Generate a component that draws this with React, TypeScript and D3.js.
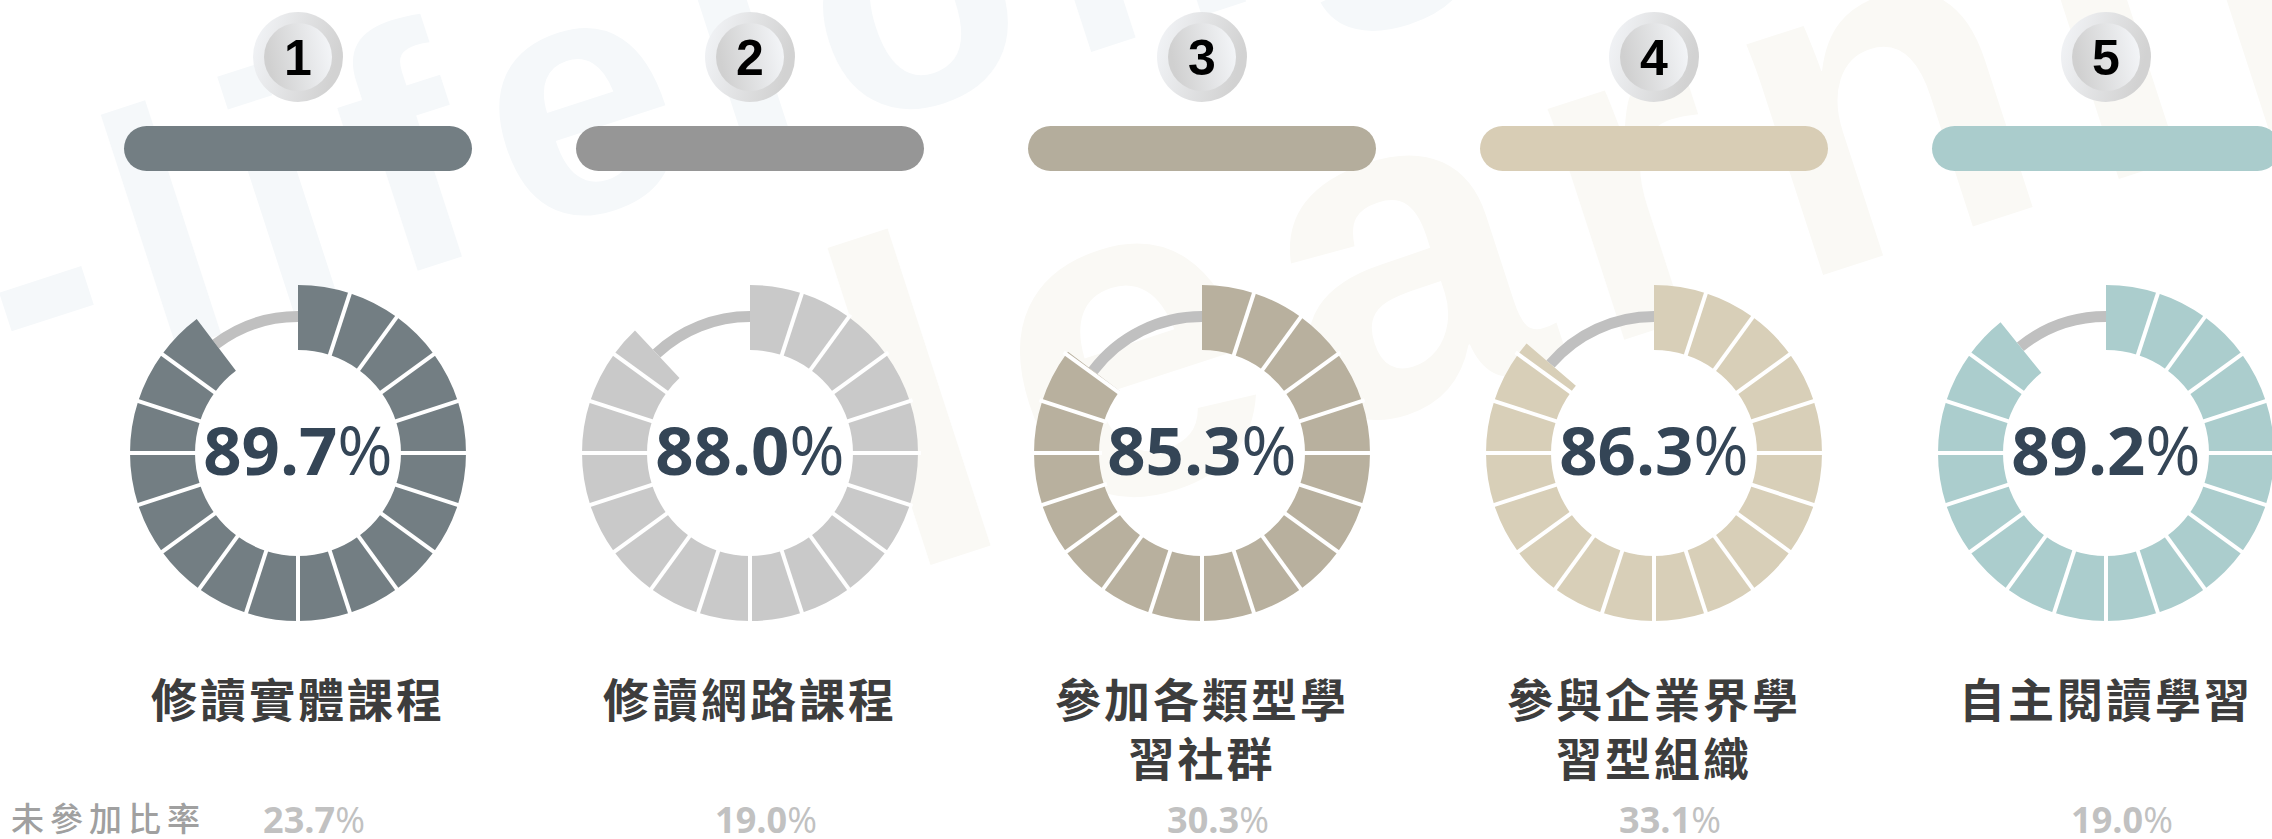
import React from "react";
import * as d3 from "d3";

const ranks = ["1", "2", "3", "4", "5"];
const categories: string[][] = [
  ["修讀實體課程"],
  ["修讀網路課程"],
  ["參加各類型學", "習社群"],
  ["參與企業界學", "習型組織"],
  ["自主閱讀學習"],
];
const participation = [89.7, 88.0, 85.3, 86.3, 89.2];
const nonParticipation = [23.7, 19.0, 30.3, 33.1, 19.0];
const barColors = ["#737e83", "#969696", "#b4ad9c", "#d8cdb5", "#aacccc"];
const ringColors = ["#737e83", "#c9c9c9", "#b8b09e", "#d8cfb8", "#abcdcd"];
const footLabel = "未參加比率";

const W = 2272;
const H = 839;
const SEGMENTS = 20;

export default function App() {
  const x = d3.scaleBand<number>().domain(d3.range(5)).range([72, 72 + 5 * 452]).padding(0);
  const cx = (i: number) => (x(i) as number) + x.bandwidth() / 2;
  const angle = d3.scaleLinear().domain([0, 100]).range([0, 2 * Math.PI]);
  const segArc = d3.arc<any>().innerRadius(103).outerRadius(168);
  const trackArc = d3.arc<any>().innerRadius(131).outerRadius(142);
  const segStep = (2 * Math.PI) / SEGMENTS;
  const cy = 453;
  const numFont = "'Open Sans', 'Noto Sans', sans-serif";
  const cjkFont = "'Noto Sans CJK TC', 'Noto Sans CJK SC', sans-serif";

  return (
    <div style={{ position: "absolute", left: 0, top: 0, width: W, height: H, overflow: "hidden", background: "#fff" }}>
      <svg width={W} height={H} viewBox={`0 0 ${W} ${H}`} style={{ display: "block" }}>
        <defs>
          <linearGradient id="badgeOuter" x1="0" y1="0" x2="1" y2="0.3">
            <stop offset="0" stopColor="#f4f6f9" />
            <stop offset="1" stopColor="#d2d2d2" />
          </linearGradient>
          <linearGradient id="badgeInner" x1="0" y1="0.2" x2="1" y2="0">
            <stop offset="0" stopColor="#d0d0d0" />
            <stop offset="1" stopColor="#f6f8fb" />
          </linearGradient>
        </defs>

        {/* watermark */}
        <g fontFamily="'Liberation Sans', Arial, sans-serif" fontWeight={700} aria-hidden="true">
          <path d="M0,0" />
          <text x={20} y={400} fontSize={340} fill="#f5f8fa" transform="rotate(-18 20 400)" letterSpacing={28}>
            -lifelong
          </text>
          <text x={900} y={575} fontSize={460} fill="#faf9f5" transform="rotate(-18 900 575)" letterSpacing={30}>
            learning
          </text>
        </g>

        {ranks.map((r, i) => {
          const c = cx(i);
          const endA = angle(participation[i]);
          const segs = d3.range(SEGMENTS)
            .map((k) => ({ startAngle: k * segStep, endAngle: Math.min((k + 1) * segStep, endA) }))
            .filter((s) => s.endAngle > s.startAngle);
          const seps = d3.range(1, SEGMENTS).map((k) => k * segStep).filter((a) => a < endA);
          const lines = categories[i];
          return (
            <g key={r}>
              {/* badge */}
              <circle cx={c} cy={57} r={45} fill="url(#badgeOuter)" />
              <circle cx={c} cy={57} r={34} fill="url(#badgeInner)" />
              <text x={c} y={75} textAnchor="middle" fontSize={50} fontWeight={700}
                fontFamily="'Liberation Sans', Arial, sans-serif" fill="#000">{r}</text>
              {/* pill bar */}
              <rect x={c - 174} y={126} width={348} height={45} rx={22.5} fill={barColors[i]} />
              {/* donut */}
              <g transform={`translate(${c},${cy})`}>
                <path d={trackArc({ startAngle: endA, endAngle: 2 * Math.PI }) as string} fill="#c0c0c0" />
                {segs.map((s, k) => (
                  <path key={k} d={segArc(s) as string} fill={ringColors[i]} />
                ))}
                {seps.map((a, k) => (
                  <line key={k} x1={100 * Math.sin(a)} y1={-100 * Math.cos(a)}
                    x2={171 * Math.sin(a)} y2={-171 * Math.cos(a)} stroke="#fff" strokeWidth={4} />
                ))}
                <text x={0} y={22} textAnchor="middle" fontFamily={numFont} fill="#344556" fontSize={67}>
                  <tspan fontWeight={700}>{participation[i].toFixed(1)}</tspan>
                  <tspan fontWeight={400}>%</tspan>
                </text>
              </g>
              {/* labels */}
              {lines.map((ln, k) => (
                <text key={k} x={c} y={717 + k * 59} textAnchor="middle" fontFamily={cjkFont}
                  fontWeight={700} fontSize={46} letterSpacing={3} fill="#3d3d3d">{ln}</text>
              ))}
              {/* non participation */}
              <text x={c + 16} y={833} textAnchor="middle" fontFamily={numFont} fontSize={36} fill="#c1c1c1">
                <tspan fontWeight={700}>{nonParticipation[i].toFixed(1)}</tspan>
                <tspan fontWeight={400}>%</tspan>
              </text>
            </g>
          );
        })}

        <text x={11} y={831} fontFamily={cjkFont} fontSize={33} letterSpacing={6} fontWeight={500} fill="#a0a0a0">
          {footLabel}
        </text>
      </svg>
    </div>
  );
}
